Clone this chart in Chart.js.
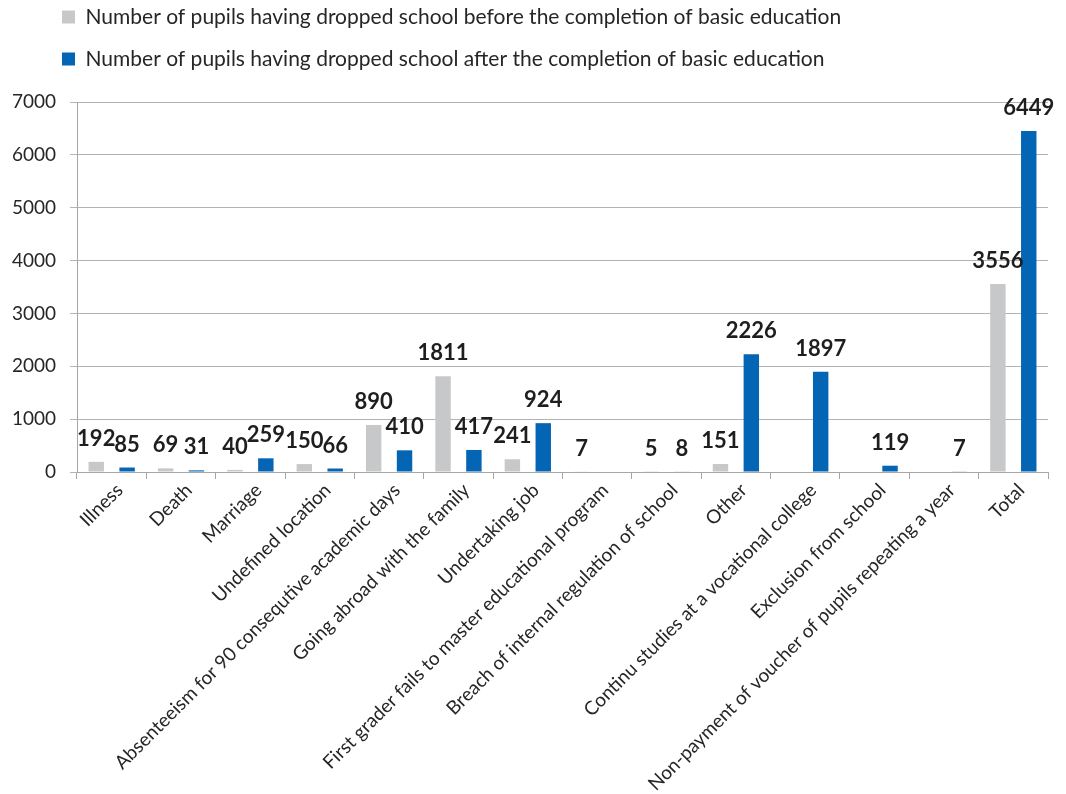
<!DOCTYPE html>
<html>
<head>
<meta charset="utf-8">
<script src="https://cdn.jsdelivr.net/npm/chart.js@4.4.1/dist/chart.umd.min.js"></script>
<style>
  html, body { margin: 0; padding: 0; background: #fff; }
  #wrap { width: 1066px; height: 794px; position: relative; }
</style>
</head>
<body>
<div id="wrap"><canvas id="chart" width="1066" height="794"></canvas></div>
<script>
// Reasons for leaving school, before / after completing basic education
const categories = [
  'Illness',
  'Death',
  'Marriage',
  'Undefined location',
  'Absenteeism for 90 consequtive academic days',
  'Going abroad with the family',
  'Undertaking job',
  'First grader fails to master educational program',
  'Breach of internal regulation of school',
  'Other',
  'Continu studies at a vocational college',
  'Exclusion from school',
  'Non-payment of voucher of pupils repeating a year',
  'Total'
];
const beforeBasic = [192, 69, 40, 150, 890, 1811, 241, 7, 5, 151, null, null, null, 3556];
const afterBasic  = [85, 31, 259, 66, 410, 417, 924, null, 8, 2226, 1897, 119, 7, 6449];
const seriesNames = [
  'Number of pupils having dropped school before the completion of basic education',
  'Number of pupils having dropped school after the completion of basic education'
];
const yMin = 0, yMax = 7000, yStep = 1000;

const FONT = 'Lato, "Open Sans", "Noto Sans", sans-serif';
const TEXT = '#262626';

// Value printed above each bar
const valueLabels = {
  id: 'valueLabels',
  afterDatasetsDraw(chart) {
    const ctx = chart.ctx;
    ctx.save();
    ctx.font = 'bold 22px ' + FONT;
    ctx.fillStyle = '#1E1E1E';
    ctx.textAlign = 'center';
    ctx.textBaseline = 'alphabetic';
    chart.data.datasets.forEach((ds, i) => {
      chart.getDatasetMeta(i).data.forEach((bar, j) => {
        const v = ds.data[j];
        if (v === null || v === undefined) return;
        ctx.fillText(String(v), bar.x, bar.y - 16);
      });
    });
    ctx.restore();
  }
};

// Legend: leave room below the two rows and indent it to the right
const legendPlacement = {
  id: 'legendPlacement',
  beforeLayout(chart) {
    const lg = chart.legend;
    if (lg && !lg._gapWrapped) {
      const fit = lg.fit;
      lg.fit = function () { fit.call(this); this.height += 22.5; };
      lg._gapWrapped = true;
    }
  },
  afterLayout(chart) {
    const lg = chart.legend;
    if (lg) { lg.left += 41; lg.right += 41; }
  }
};

new Chart(document.getElementById('chart'), {
  type: 'bar',
  data: {
    labels: categories,
    datasets: [
      { label: seriesNames[0], data: beforeBasic, backgroundColor: '#C7C8CA' },
      { label: seriesNames[1], data: afterBasic,  backgroundColor: '#0565B5' }
    ]
  },
  options: {
    responsive: false,
    animation: false,
    devicePixelRatio: 1,
    layout: { padding: { top: -14.5, left: 0, right: 18, bottom: 0 } },
    datasets: { bar: { categoryPercentage: 0.89, barPercentage: 0.5 } },
    plugins: {
      legend: {
        position: 'top',
        align: 'start',
        labels: {
          font: { family: FONT, size: 21 },
          color: TEXT,
          boxWidth: 13,
          boxHeight: 13,
          padding: 21
        }
      },
      tooltip: { enabled: false }
    },
    scales: {
      x: {
        grid: { drawOnChartArea: false, offset: true, tickLength: 7, color: '#A6A6A6' },
        border: { color: '#A6A6A6' },
        ticks: {
          autoSkip: false,
          maxRotation: 45,
          minRotation: 45,
          padding: 0,
          labelOffset: 8,
          font: { family: FONT, size: 19 },
          color: TEXT
        },
        afterFit(scale) { scale.height = 322; }
      },
      y: {
        min: yMin,
        max: yMax,
        grid: { color: '#B3B3B3', tickLength: 7 },
        border: { color: '#A6A6A6' },
        ticks: {
          stepSize: yStep,
          padding: 14,
          font: { family: FONT, size: 19 },
          color: TEXT,
          callback: (v) => String(v)
        },
        afterFit(scale) { scale.width = 77; }
      }
    }
  },
  plugins: [valueLabels, legendPlacement]
});
</script>
</body>
</html>
